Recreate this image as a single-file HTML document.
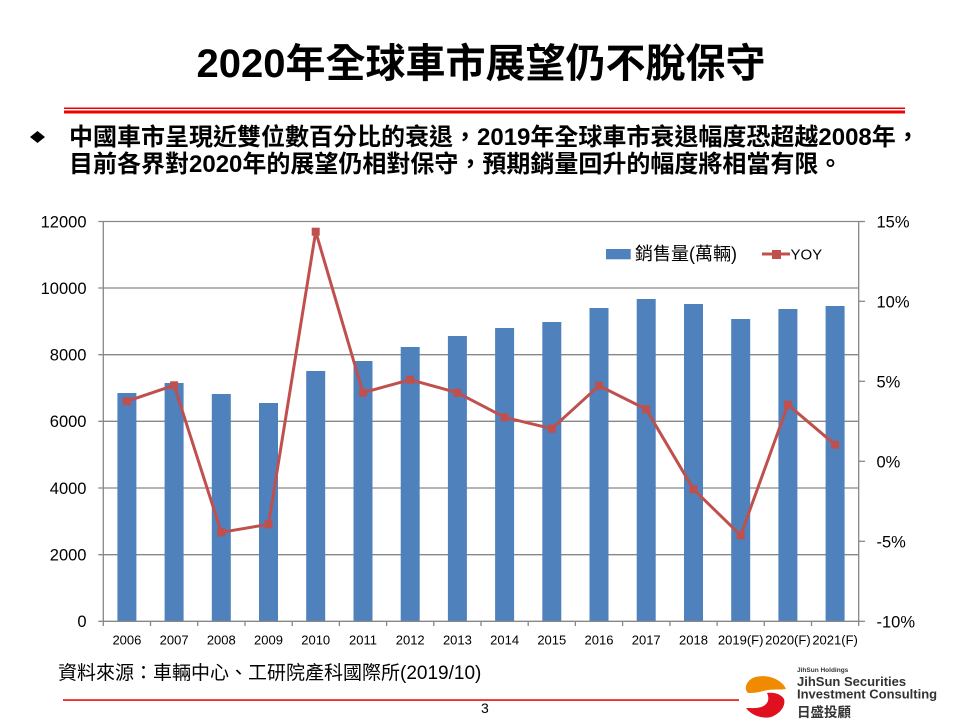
<!DOCTYPE html>
<html><head><meta charset="utf-8"><style>
html,body{margin:0;padding:0;background:#fff;}
body{width:960px;height:720px;position:relative;overflow:hidden;font-family:"Liberation Sans","Noto Sans CJK TC",sans-serif;}
.t{position:absolute;white-space:nowrap;color:#000;}
</style></head><body>
<div class="t" style="left:0;width:962px;text-align:center;top:40px;font-size:40px;line-height:48px;font-weight:bold;">2020年全球車市展望仍不脫保守</div>
<div class="t" style="left:69px;top:124px;font-size:24px;line-height:27px;font-weight:bold;">中國車市呈現近雙位數百分比的衰退，2019年全球車市衰退幅度恐超越2008年，<br>目前各界對2020年的展望仍相對保守，預期銷量回升的幅度將相當有限。</div>
<div class="t" style="left:58px;top:663px;font-size:19px;line-height:22px;">資料來源：車輛中心、工研院產科國際所(2019/10)</div>
<svg width="960" height="720" style="position:absolute;left:0;top:0" xmlns="http://www.w3.org/2000/svg">
<rect x="64" y="107.5" width="841" height="1.5" fill="#f00000"/>
<rect x="64" y="110.5" width="841" height="3" fill="#f00000"/>
<polygon points="30,137 37.5,131 45,137 37.5,143" fill="#000"/>
<rect x="63" y="699.3" width="676" height="1.5" fill="#e00000"/>
<!-- grid -->
<g stroke="#878787" stroke-width="1.3" fill="none">
<line x1="98.3" y1="221.5" x2="858.7" y2="221.5"/>
<line x1="98.3" y1="288" x2="858.7" y2="288"/>
<line x1="98.3" y1="354.7" x2="858.7" y2="354.7"/>
<line x1="98.3" y1="421.3" x2="858.7" y2="421.3"/>
<line x1="98.3" y1="488" x2="858.7" y2="488"/>
<line x1="98.3" y1="554.7" x2="858.7" y2="554.7"/>
</g>
<g fill="#4f81bd">
<rect x="117.4" y="393" width="19" height="228.3"/>
<rect x="164.6" y="383" width="19" height="238.3"/>
<rect x="211.8" y="394" width="19" height="227.3"/>
<rect x="259.0" y="403" width="19" height="218.3"/>
<rect x="306.2" y="371" width="19" height="250.3"/>
<rect x="353.5" y="361" width="19" height="260.3"/>
<rect x="400.7" y="347" width="19" height="274.3"/>
<rect x="447.9" y="336" width="19" height="285.3"/>
<rect x="495.1" y="328" width="19" height="293.3"/>
<rect x="542.3" y="322" width="19" height="299.3"/>
<rect x="589.5" y="308" width="19" height="313.3"/>
<rect x="636.7" y="299" width="19" height="322.3"/>
<rect x="684.0" y="304" width="19" height="317.3"/>
<rect x="731.2" y="319" width="19" height="302.3"/>
<rect x="778.4" y="309" width="19" height="312.3"/>
<rect x="825.6" y="306" width="19" height="315.3"/>
</g>
<g stroke="#878787" stroke-width="1.3" fill="none">
<line x1="103.3" y1="221" x2="103.3" y2="621.3"/>
<line x1="858.7" y1="221" x2="858.7" y2="626"/>
<line x1="98.3" y1="621.3" x2="858.7" y2="621.3"/>
<line x1="858.7" y1="221.5" x2="865" y2="221.5"/>
<line x1="858.7" y1="301.3" x2="865" y2="301.3"/>
<line x1="858.7" y1="381.3" x2="865" y2="381.3"/>
<line x1="858.7" y1="461.3" x2="865" y2="461.3"/>
<line x1="858.7" y1="541.3" x2="865" y2="541.3"/>
<line x1="858.7" y1="621.3" x2="865" y2="621.3"/>
<path d="M103.3 621.3V626M150.5 621.3V626M197.7 621.3V626M245.0 621.3V626M292.2 621.3V626M339.4 621.3V626M386.6 621.3V626M433.8 621.3V626M481.0 621.3V626M528.2 621.3V626M575.4 621.3V626M622.6 621.3V626M669.9 621.3V626M717.1 621.3V626M764.3 621.3V626M811.5 621.3V626"/>
</g>
<polyline fill="none" stroke="#c0504d" stroke-width="3" stroke-linejoin="round" points="126.9,401.3 174.1,385.3 221.3,532.3 268.5,524.3 315.7,231.7 363.0,392.7 410.2,379.7 457.4,392.7 504.6,417.3 551.8,428.7 599.0,385.7 646.2,409.3 693.5,489.3 740.7,535.3 787.9,404.7 835.1,444.7"/>
<g fill="#c0504d">
<rect x="122.9" y="397.3" width="8" height="8"/>
<rect x="170.1" y="381.3" width="8" height="8"/>
<rect x="217.3" y="528.3" width="8" height="8"/>
<rect x="264.5" y="520.3" width="8" height="8"/>
<rect x="311.7" y="227.7" width="8" height="8"/>
<rect x="359.0" y="388.7" width="8" height="8"/>
<rect x="406.2" y="375.7" width="8" height="8"/>
<rect x="453.4" y="388.7" width="8" height="8"/>
<rect x="500.6" y="413.3" width="8" height="8"/>
<rect x="547.8" y="424.7" width="8" height="8"/>
<rect x="595.0" y="381.7" width="8" height="8"/>
<rect x="642.2" y="405.3" width="8" height="8"/>
<rect x="689.5" y="485.3" width="8" height="8"/>
<rect x="736.7" y="531.3" width="8" height="8"/>
<rect x="783.9" y="400.7" width="8" height="8"/>
<rect x="831.1" y="440.7" width="8" height="8"/>
</g>
<g font-family="Liberation Sans, sans-serif" font-size="16.5" fill="#000" text-anchor="end">
<text x="86.5" y="227.5">12000</text>
<text x="86.5" y="294">10000</text>
<text x="86.5" y="360.5">8000</text>
<text x="86.5" y="427">6000</text>
<text x="86.5" y="494">4000</text>
<text x="86.5" y="560.5">2000</text>
<text x="86.5" y="627">0</text>
</g>
<g font-family="Liberation Sans, sans-serif" font-size="16.5" fill="#000">
<text x="876.5" y="227.5">15%</text>
<text x="876.5" y="307.3">10%</text>
<text x="876.5" y="387.3">5%</text>
<text x="876.5" y="467.3">0%</text>
<text x="876.5" y="547.3">-5%</text>
<text x="876.5" y="627.3">-10%</text>
</g>
<g font-family="Liberation Sans, sans-serif" font-size="13" fill="#000" text-anchor="middle">
<text x="126.9" y="644.5">2006</text>
<text x="174.1" y="644.5">2007</text>
<text x="221.3" y="644.5">2008</text>
<text x="268.5" y="644.5">2009</text>
<text x="315.7" y="644.5">2010</text>
<text x="363.0" y="644.5">2011</text>
<text x="410.2" y="644.5">2012</text>
<text x="457.4" y="644.5">2013</text>
<text x="504.6" y="644.5">2014</text>
<text x="551.8" y="644.5">2015</text>
<text x="599.0" y="644.5">2016</text>
<text x="646.2" y="644.5">2017</text>
<text x="693.5" y="644.5">2018</text>
<text x="740.7" y="644.5">2019(F)</text>
<text x="787.9" y="644.5">2020(F)</text>
<text x="835.1" y="644.5">2021(F)</text>
</g>
<!-- legend -->
<rect x="606" y="249" width="24.7" height="10.3" fill="#4f81bd"/>
<text x="635" y="260" font-family="Liberation Sans, Noto Sans CJK TC, sans-serif" font-size="18" fill="#000">銷售量(萬輛)</text>
<line x1="762" y1="254" x2="790" y2="254" stroke="#c0504d" stroke-width="3"/>
<rect x="772" y="250" width="9" height="9" fill="#c0504d"/>
<text x="790.5" y="259.5" font-family="Liberation Sans, sans-serif" font-size="15" fill="#000">YOY</text>
<!-- page number -->
<text x="481" y="713" font-family="Liberation Sans, sans-serif" font-size="14" fill="#000">3</text>
<!-- logo -->
<path d="M748,682 C752,676 762,675 770,677 C778,679 784,684 786,689 C780,690 774,689 768,690 C762,691 758,693 748,693 C745,690 745,686 748,682 Z" fill="#f08a00"/>
<path d="M767,693 C774,692 781,694 784,699 C786,706 780,714 771,717 C763,719 752,716 746,708 C752,708 760,709 765,705 C769,702 769,697 767,693 Z" fill="#e0101e"/>
<text x="797" y="672" font-family="Liberation Sans, sans-serif" font-size="6.5" font-weight="bold" fill="#333">JihSun Holdings</text>
<text x="797" y="686" font-family="Liberation Sans, sans-serif" font-size="13" font-weight="bold" fill="#333">JihSun Securities</text>
<text x="797" y="698.3" font-family="Liberation Sans, sans-serif" font-size="13" font-weight="bold" fill="#333">Investment Consulting</text>
<text x="797" y="717" font-family="Noto Sans CJK TC, sans-serif" font-size="13.5" font-weight="bold" fill="#333">日盛投顧</text>
</svg>
</body></html>
